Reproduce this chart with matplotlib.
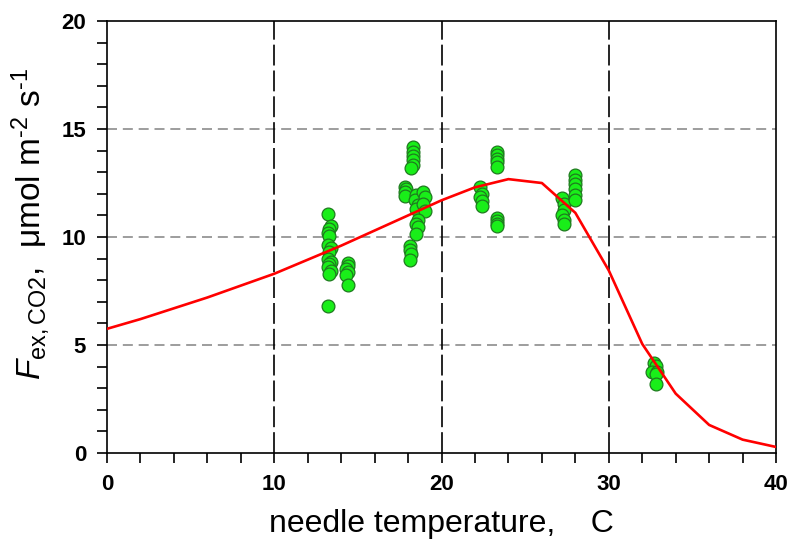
import matplotlib.pyplot as plt
from matplotlib.ticker import MultipleLocator

plt.rcParams['font.family'] = ['Liberation Sans', 'DejaVu Sans']
plt.rcParams['mathtext.fontset'] = 'custom'
plt.rcParams['mathtext.rm'] = 'Liberation Sans'
plt.rcParams['mathtext.it'] = 'Liberation Sans:italic'

# model curve
curve_t = [0, 2, 4, 6, 8, 10, 12, 14, 16, 18, 20, 22, 24, 26, 28, 30, 32, 34, 36, 38, 40]
curve_f = [5.75, 6.2, 6.7, 7.2, 7.75, 8.3, 8.95, 9.6, 10.3, 11.0, 11.7, 12.3, 12.68, 12.5,
           11.12, 8.45, 5.05, 2.75, 1.3, 0.62, 0.28]

# measured fluxes
meas_t = [13.2, 13.4, 13.3, 13.2, 13.3, 13.2, 13.4, 13.3, 13.2, 13.4, 13.3, 13.2, 13.4, 13.3, 13.2,
          14.4, 14.4, 14.3, 14.4, 14.3, 14.4,
          18.3, 18.3, 18.3, 18.3, 18.3, 18.2,
          18.1, 18.1, 18.2, 18.1,
          17.8, 17.9, 17.8, 17.8,
          18.5, 18.4, 18.6, 18.5, 18.9, 19.0, 18.9, 19.0, 18.6, 18.5, 18.6, 18.5,
          22.3, 22.4, 22.3, 22.4, 22.4,
          23.3, 23.3, 23.3, 23.3, 23.3, 23.3, 23.3, 23.3, 23.3,
          27.2, 27.3, 27.3, 27.2, 27.3, 27.3,
          28.0, 28.0, 28.0, 28.0, 28.0, 28.0,
          32.7, 32.8, 32.6, 32.9, 32.8, 32.8]
meas_f = [11.05, 10.5, 10.35, 10.2, 10.05, 9.65, 9.5, 9.3, 9.0, 8.85, 8.75, 8.6, 8.45, 8.3, 6.8,
          8.8, 8.65, 8.5, 8.4, 8.25, 7.8,
          14.15, 13.95, 13.75, 13.55, 13.35, 13.2,
          9.6, 9.4, 9.2, 8.95,
          12.3, 12.2, 12.1, 11.9,
          11.95, 11.7, 11.5, 11.3, 12.1, 11.85, 11.55, 11.2, 10.8, 10.6, 10.45, 10.15,
          12.3, 12.0, 11.85, 11.65, 11.45,
          13.95, 13.8, 13.6, 13.45, 13.25, 10.9, 10.75, 10.6, 10.5,
          11.8, 11.55, 11.25, 11.0, 10.8, 10.6,
          12.85, 12.65, 12.45, 12.2, 11.95, 11.7,
          4.15, 4.05, 3.75, 3.75, 3.65, 3.2]

fig = plt.figure(figsize=(7.89, 5.43), dpi=100)
ax = fig.add_axes([0.1356, 0.1657, 0.848, 0.7956])

for y in [5, 10, 15]:
    ax.axhline(y, color='#8c8c8c', linewidth=1.2, linestyle=(0, (6, 3.5)), zorder=1)
for x in [10, 20, 30]:
    ax.axvline(x, color='black', linewidth=1.2, linestyle=(0, (12.5, 3)), zorder=1)

ax.scatter(meas_t, meas_f, s=85, color='#19ee19', edgecolors='#1f7a1f', linewidths=0.9, zorder=3)
ax.plot(curve_t, curve_f, color='#ff0000', linewidth=1.9, zorder=4)

ax.set_xlim(0, 40)
ax.set_ylim(0, 20)
ax.xaxis.set_major_locator(MultipleLocator(10))
ax.xaxis.set_minor_locator(MultipleLocator(2))
ax.yaxis.set_major_locator(MultipleLocator(5))
ax.yaxis.set_minor_locator(MultipleLocator(1))
ax.tick_params(which='both', direction='out', length=7, width=1.2)
ax.tick_params(axis='both', which='major', labelsize=16, pad=8)
for lbl in ax.get_xticklabels() + ax.get_yticklabels():
    lbl.set_fontweight('bold')
for s in ax.spines.values():
    s.set_linewidth(1.2)

ax.set_xlabel('needle temperature,    C', fontsize=23, labelpad=10)
ax.set_ylabel(r'$\mathit{F}_{\mathrm{ex,CO2}}$,  μmol m$^{\text{-2}}$ s$^{\text{-1}}$',
              fontsize=24)
ax.yaxis.set_label_coords(-0.082, 0.53)

plt.savefig('out.png', dpi=100)
plt.close()
